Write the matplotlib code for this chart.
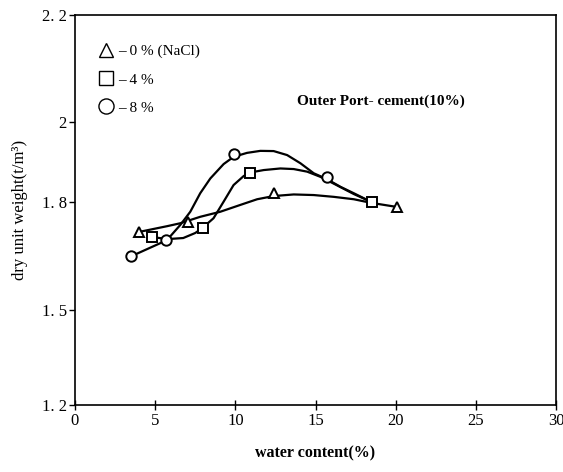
import numpy as np
import matplotlib
matplotlib.use("Agg")
import matplotlib.pyplot as plt

plt.rcParams['font.family'] = ['Liberation Serif', 'DejaVu Serif']

# measured points: water content (%) / dry unit weight (t/m3)
x_0 = [4.0, 7.06, 12.4, 20.1]
y_0 = [1.717, 1.745, 1.822, 1.786]
x_4 = [4.8, 8.0, 10.94, 18.5]
y_4 = [1.703, 1.727, 1.872, 1.801]
x_8 = [3.5, 5.7, 9.94, 15.73]
y_8 = [1.650, 1.694, 1.920, 1.862]

# hand-fitted curves through each series
cx_0 = [4.0, 5.75, 6.56, 7.81, 9.06, 10.31, 11.36, 12.39, 13.64, 14.89, 16.14, 17.39, 18.44, 20.13]
cy_0 = [1.717, 1.733, 1.741, 1.759, 1.773, 1.792, 1.807, 1.815, 1.819, 1.8175, 1.813, 1.807, 1.798, 1.786]
cx_4 = [4.79, 5.75, 6.75, 7.5, 7.92, 8.64, 9.27, 9.89, 10.52, 10.94, 11.77, 12.81, 13.64, 14.48,
        15.31, 16.14, 17.39, 18.44]
cy_4 = [1.703, 1.697, 1.700, 1.714, 1.727, 1.755, 1.801, 1.8425, 1.865, 1.874, 1.880, 1.884, 1.8825, 1.876,
        1.863, 1.846, 1.820, 1.801]
cx_8 = [3.54, 5.73, 6.56, 7.19, 7.81, 8.44, 9.27, 9.89, 10.73, 11.56, 12.39, 13.23, 14.06, 14.89,
        15.73, 16.56, 17.39, 18.44]
cy_8 = [1.650, 1.694, 1.736, 1.773, 1.822, 1.859, 1.895, 1.913, 1.923, 1.928, 1.9275, 1.9175, 1.897, 1.872,
        1.857, 1.838, 1.822, 1.801]

labels = ['\u2013 0 % (NaCl)', '\u2013 4 %', '\u2013 8 %']
y_ticks = [1.2, 1.5, 1.8, 2.0, 2.2]
y_ticklabels = ['1. 2', '1. 5', '1. 8', '2', '2. 2']
x_ticks = [0, 5, 10, 15, 20, 25, 30]

# the printed y axis is not evenly divided; place each tick where it sits
tick_frac = [0.0, 0.2436, 0.5205, 0.7256, 1.0]


def fwd(v):
    return np.interp(v, y_ticks, tick_frac)


def inv(p):
    return np.interp(p, tick_frac, y_ticks)


fig = plt.figure(figsize=(5.63, 4.72), dpi=100)
ax = fig.add_axes([0.1332, 0.142, 0.8544, 0.826])
ax.set_yscale('function', functions=(fwd, inv))

for cx, cy in [(cx_0, cy_0), (cx_4, cy_4), (cx_8, cy_8)]:
    ax.plot(cx, cy, color='black', lw=1.6, zorder=2, solid_joinstyle='round')

mk = dict(ls='none', mfc='white', mec='black', mew=1.4, zorder=3)
h0, = ax.plot(x_0, y_0, marker='^', ms=7, label=labels[0], **mk)
h4, = ax.plot(x_4, y_4, marker='s', ms=6.5, label=labels[1], **mk)
h8, = ax.plot(x_8, y_8, marker='o', ms=7.5, label=labels[2], **mk)

leg = ax.legend(handles=[h0, h4, h8], loc='upper left',
                bbox_to_anchor=(0.02, 0.96), frameon=False, fontsize=11,
                markerscale=1.45, handlelength=1.0, handletextpad=0.3,
                labelspacing=0.95)
for lh in leg.legend_handles:
    lh.set_markeredgewidth(1.0)

ax.text(0.462, 0.778, 'Outer Port- cement(10%)', transform=ax.transAxes,
        fontsize=11, fontweight='bold', ha='left', va='center')

ax.set_xlim(0, 30)
ax.set_ylim(1.2, 2.2)
ax.set_xticks(x_ticks)
ax.set_yticks(y_ticks)
ax.set_yticklabels(y_ticklabels)
ax.minorticks_off()
ax.tick_params(axis='x', direction='inout', length=7, width=1, labelsize=12, pad=2)
ax.tick_params(axis='y', direction='out', length=4, width=1, labelsize=12, pad=2)
for s in ax.spines.values():
    s.set_linewidth(1.2)

ax.set_xlabel('water content(%)', fontsize=11.5, fontweight='bold', labelpad=12)
ax.set_ylabel('dry unit weight(t/m\u00b3)', fontsize=12, labelpad=10)

fig.savefig('out.png', dpi=100)
